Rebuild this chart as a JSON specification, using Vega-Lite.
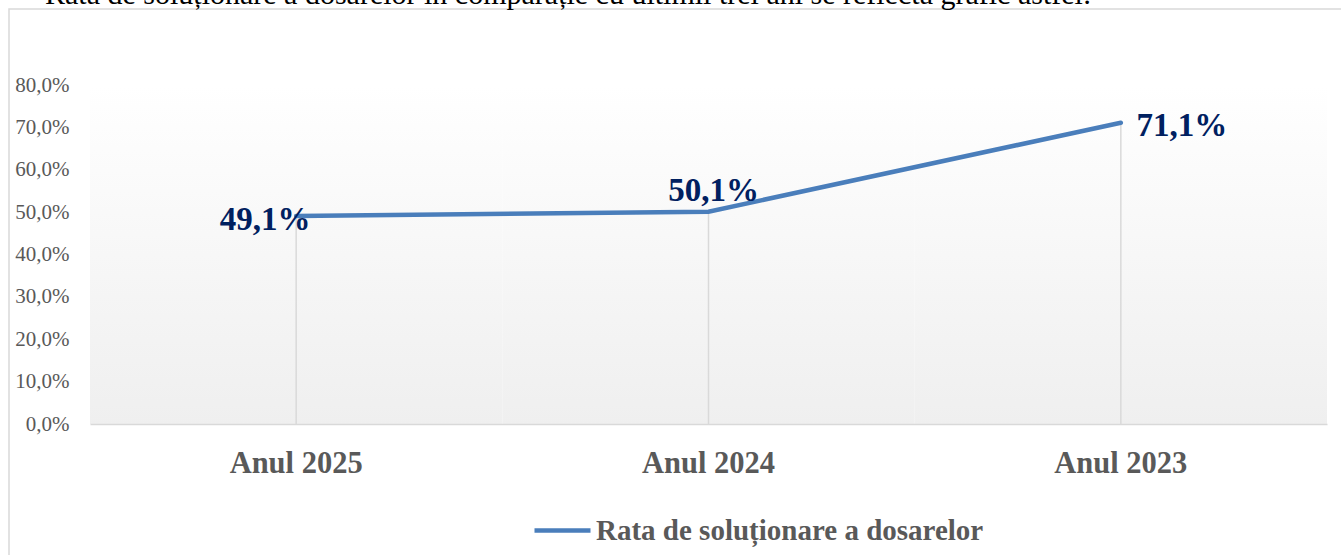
{
  "$schema": "https://vega.github.io/schema/vega-lite/v6.json",
  "autosize": {"type": "none"},
  "padding": {"left": 9, "top": 9, "right": 0, "bottom": 0},
  "width": 1340,
  "height": 560,
  "background": "white",
  "view": {"stroke": "#d9d9d9", "strokeWidth": 1.5, "fill": "white"},
  "config": {
    "locale": {"number": {"decimal": ",", "thousands": ".", "grouping": [3], "currency": ["", ""]}},
    "font": "Liberation Serif"
  },
  "title": {
    "text": "Rata de soluționare a dosarelor în comparație cu ultimii trei ani se reflectă grafic astfel:",
    "anchor": "start",
    "frame": "group",
    "orient": "top",
    "offset": 0,
    "baseline": "alphabetic",
    "dx": 36,
    "dy": 25,
    "font": "Liberation Serif",
    "fontSize": 30,
    "fontWeight": "normal",
    "color": "#000000"
  },
  "data": {
    "values": [
      {"an": "Anul 2025", "rata": 0.491},
      {"an": "Anul 2024", "rata": 0.501},
      {"an": "Anul 2023", "rata": 0.711}
    ]
  },
  "encoding": {
    "x": {
      "field": "an",
      "type": "nominal",
      "sort": null,
      "scale": {"range": [81, 1318], "paddingInner": 0, "paddingOuter": 0},
      "axis": {
        "title": null,
        "orient": "bottom",
        "offset": -145,
        "domainColor": "#d9d9d9",
        "domainWidth": 1.5,
        "ticks": false,
        "grid": false,
        "labelAngle": 0,
        "labelPadding": 24,
        "labelFont": "Liberation Serif",
        "labelFontSize": 30.5,
        "labelFontWeight": "bold",
        "labelColor": "#595959"
      }
    }
  },
  "layer": [
    {
      "mark": {
        "type": "rect",
        "fill": {
          "gradient": "linear",
          "x1": 0, "y1": 0, "x2": 0, "y2": 1,
          "stops": [
            {"offset": 0, "color": "#ffffff"},
            {"offset": 1, "color": "#efefef"}
          ]
        }
      },
      "encoding": {
        "y": {"datum": 0.8, "type": "quantitative"},
        "y2": {"datum": 0}
      }
    },
    {
      "mark": {"type": "rule", "color": "#d9d9d9", "strokeWidth": 1.5},
      "encoding": {
        "y": {"field": "rata", "type": "quantitative"},
        "y2": {"datum": 0}
      }
    },
    {
      "mark": {"type": "line", "strokeWidth": 4.5, "strokeCap": "round"},
      "encoding": {
        "y": {
          "field": "rata",
          "type": "quantitative",
          "scale": {"domain": [0, 0.8], "range": [415, 76], "nice": false},
          "axis": {
            "title": null,
            "orient": "left",
            "offset": -62,
            "values": [0, 0.1, 0.2, 0.3, 0.4, 0.5, 0.6, 0.7, 0.8],
            "format": ".1%",
            "domain": false,
            "ticks": false,
            "grid": false,
            "labelPadding": 2,
            "labelFont": "Liberation Serif",
            "labelFontSize": 21,
            "labelColor": "#595959"
          }
        },
        "color": {
          "datum": "Rata de soluționare a dosarelor",
          "type": "nominal",
          "scale": {"range": ["#4a7ebb"]},
          "legend": {
            "title": null,
            "orient": "none",
            "legendX": 523,
            "legendY": 491,
            "symbolType": "stroke",
            "symbolSize": 3136,
            "symbolStrokeWidth": 4.5,
            "labelOffset": 3,
            "labelFont": "Liberation Serif",
            "labelFontSize": 29,
            "labelFontWeight": "bold",
            "labelColor": "#595959",
            "labelLimit": 600
          }
        }
      }
    },
    {
      "transform": [{"filter": "datum.an === 'Anul 2025'"}],
      "mark": {"type": "text", "font": "Liberation Serif", "fontSize": 33, "fontWeight": "bold", "color": "#002060", "baseline": "middle", "align": "center", "dx": -31, "dy": 4},
      "encoding": {"y": {"field": "rata", "type": "quantitative"}, "text": {"field": "rata", "type": "quantitative", "format": ".1%"}}
    },
    {
      "transform": [{"filter": "datum.an === 'Anul 2024'"}],
      "mark": {"type": "text", "font": "Liberation Serif", "fontSize": 33, "fontWeight": "bold", "color": "#002060", "baseline": "middle", "align": "center", "dx": 5, "dy": -21},
      "encoding": {"y": {"field": "rata", "type": "quantitative"}, "text": {"field": "rata", "type": "quantitative", "format": ".1%"}}
    },
    {
      "transform": [{"filter": "datum.an === 'Anul 2023'"}],
      "mark": {"type": "text", "font": "Liberation Serif", "fontSize": 33, "fontWeight": "bold", "color": "#002060", "baseline": "middle", "align": "center", "dx": 61, "dy": 3},
      "encoding": {"y": {"field": "rata", "type": "quantitative"}, "text": {"field": "rata", "type": "quantitative", "format": ".1%"}}
    }
  ]
}
